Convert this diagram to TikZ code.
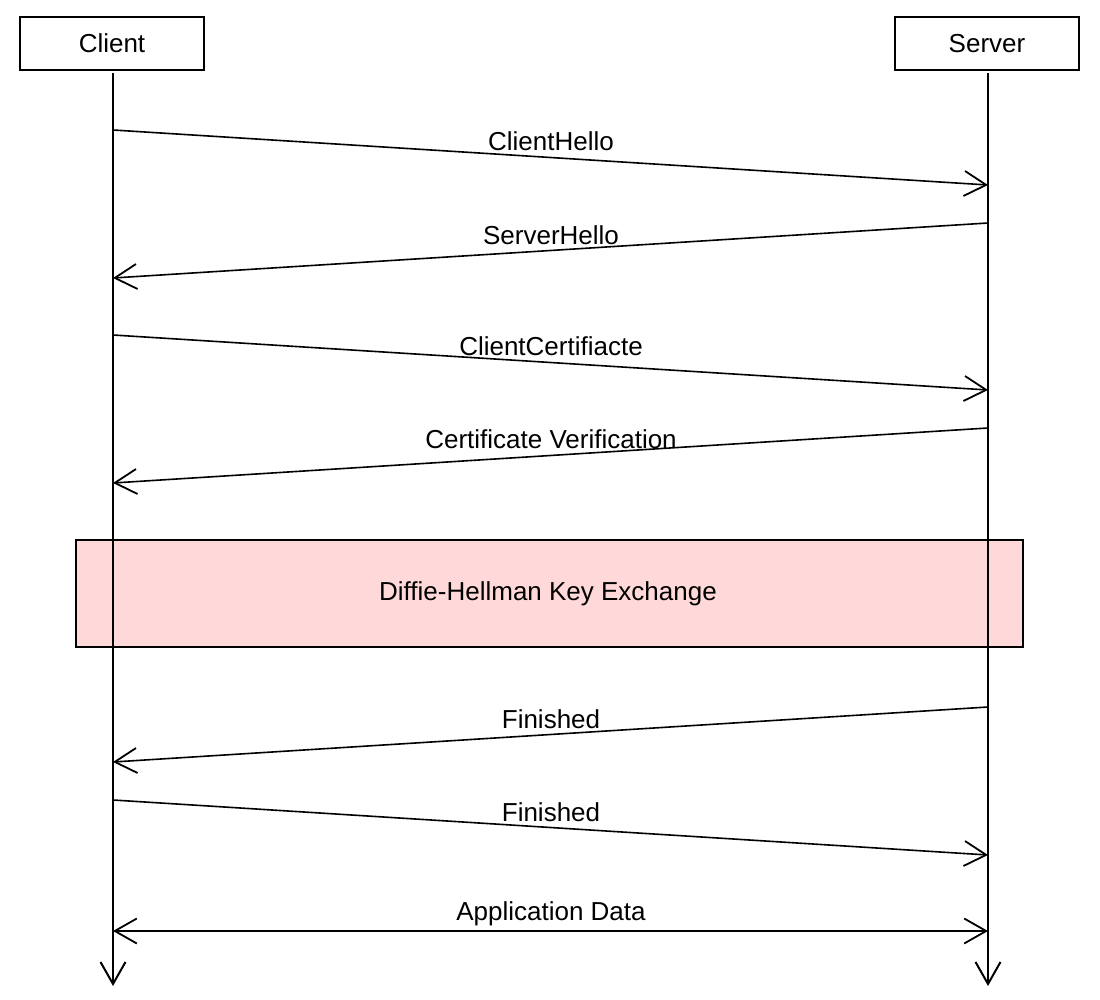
\documentclass[tikz,border=0pt]{standalone}
\usepackage{fontspec}
\setmainfont{Liberation Sans}
\usetikzlibrary{arrows.meta}
\definecolor{dhpink}{RGB}{255,217,217}
\tikzset{
  actor/.style={draw, line width=2pt, minimum width=184pt, minimum height=53pt, inner sep=0pt, font=\fontsize{26}{30}\selectfont},
  lifeline/.style={line width=2pt, -{Straight Barb[length=22pt,width=25pt,line width=2pt]}},
  msg/.style={line width=1.6pt, -{Straight Barb[length=22pt,width=25pt,line width=1.8pt]}},
  bmsg/.style={line width=1.6pt, {Straight Barb[length=22pt,width=25pt,line width=1.8pt]}-{Straight Barb[length=22pt,width=25pt,line width=1.8pt]}},
  lbl/.style={font=\fontsize{26}{30}\selectfont, inner sep=0pt},
  phase/.style={draw, line width=2pt, fill=dhpink, minimum width=947pt, minimum height=107pt, inner sep=0pt, font=\fontsize{26}{30}\selectfont}
}
\begin{document}
\begin{tikzpicture}[x=1pt,y=-1pt]
\useasboundingbox (0,0) rectangle (1100,1000);
\node[actor] (client) at (112,43.5) {Client};
\node[actor] (server) at (987,43.5) {Server};
\coordinate (ctop) at (113,73);
\coordinate (cbot) at (113,986);
\coordinate (stop) at (988,73);
\coordinate (sbot) at (988,986);
% phase box (drawn before lifelines so lines appear on top)
\node[phase] (dh) at (549.5,593.5) {};
\node[lbl] (dhl) at (548,594) {Diffie-Hellman Key Exchange};
\draw[lifeline] (ctop) -- (cbot);
\draw[lifeline] (stop) -- (sbot);
% message endpoints
\coordinate (c1) at (113,130); \coordinate (s1) at (988,185);
\coordinate (s2) at (988,223); \coordinate (c2) at (113,278);
\coordinate (c3) at (113,335); \coordinate (s3) at (988,390);
\coordinate (s4) at (988,428); \coordinate (c4) at (113,483);
\coordinate (s5) at (988,707); \coordinate (c5) at (113,762);
\coordinate (c6) at (113,800); \coordinate (s6) at (988,855);
\coordinate (c7) at (113,931); \coordinate (s7) at (988,931);
\draw[msg] (c1) -- (s1);
\draw[msg] (s2) -- (c2);
\draw[msg] (c3) -- (s3);
\draw[msg] (s4) -- (c4);
\draw[msg] (s5) -- (c5);
\draw[msg] (c6) -- (s6);
\draw[bmsg] (c7) -- (s7);
\node[lbl] (l1) at (551,141) {ClientHello};
\node[lbl] (l2) at (551,235) {ServerHello};
\node[lbl] (l3) at (551,346) {ClientCertifiacte};
\node[lbl] (l4) at (551,439) {Certificate Verification};
\node[lbl] (l5) at (551,719) {Finished};
\node[lbl] (l6) at (551,812) {Finished};
\node[lbl] (l7) at (551,914) {Application Data};
\end{tikzpicture}
\end{document}
